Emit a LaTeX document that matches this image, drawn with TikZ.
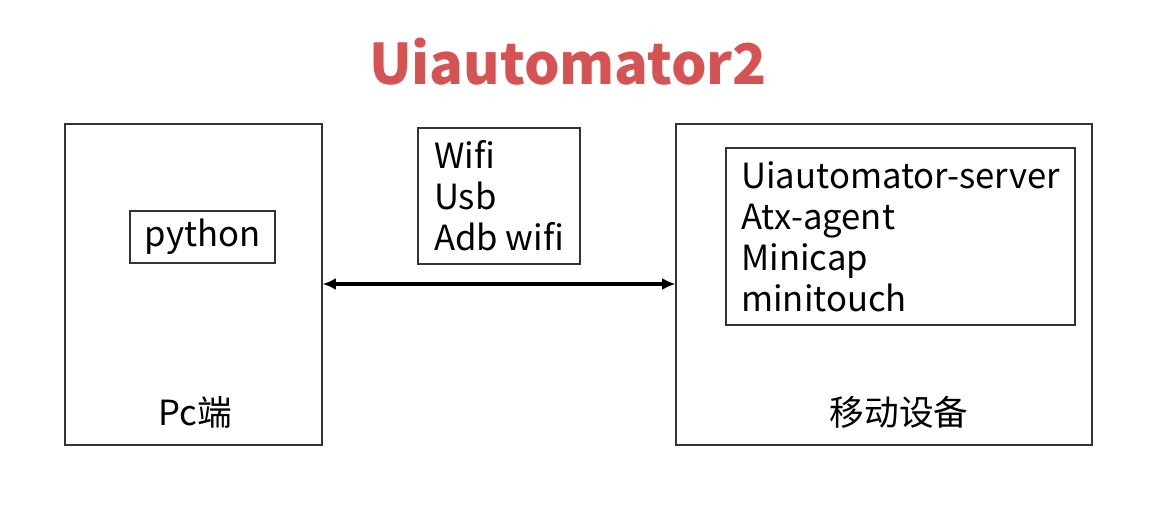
\documentclass[tikz,border=0pt]{standalone}
\usepackage{fontspec}
\setmainfont{Noto Sans CJK SC}
\usetikzlibrary{arrows.meta}
\definecolor{titlered}{RGB}{213,83,83}
\begin{document}
\begin{tikzpicture}[x=0.75pt, y=-0.75pt, >={Latex[length=10pt,width=9pt]}]
	\tikzstyle{box}  = [rectangle, draw=black!80, line width=0.8pt, inner sep=0pt]
	\tikzstyle{txt}  = [font=\fontsize{26}{30.75}\selectfont, align=left, inner sep=0pt]

	\useasboundingbox (0,0) rectangle (1172,517);

	\node[font=\fontsize{42}{50}\selectfont\bfseries, text=titlered] (title) at (568, 62) {Uiautomator2};

	% the two ends
	\node[box, minimum width=257*0.75pt, minimum height=321*0.75pt] (pc) at (193.5, 284.5) {};
	\node[box, minimum width=416*0.75pt, minimum height=321*0.75pt] (phone) at (884, 284.5) {};

	\node[box, txt, minimum width=145*0.75pt, minimum height=52*0.75pt] (python) at (202.5, 237) {python};
	\node[txt] (pclabel) at (195, 412) {Pc端};
	\node[txt] (phonelabel) at (899, 412) {移动设备};

	\node[box, txt, minimum width=162*0.75pt, minimum height=136*0.75pt] (link) at (499, 196) {Wifi\\Usb\\Adb wifi};
	\node[box, txt, minimum width=349*0.75pt, minimum height=177*0.75pt] (server) at (900.5, 236.5)
		{Uiautomator-server\\Atx-agent\\Minicap\\minitouch};

	\draw[<->, line width=2.4pt] (pc.east |- 0,284) -- (phone.west |- 0,284);

\end{tikzpicture}
\end{document}
